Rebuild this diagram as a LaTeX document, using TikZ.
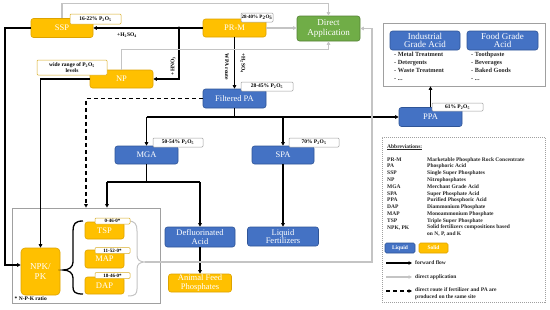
\documentclass[tikz,border=0pt]{standalone}
\usepackage{fontspec}
\setmainfont{Liberation Serif}
\usepackage{tikz}
\usetikzlibrary{arrows.meta}
\definecolor{yel}{HTML}{FFC000}
\definecolor{yelD}{HTML}{DDA300}
\definecolor{blu}{HTML}{4472C4}
\definecolor{bluD}{HTML}{2F5597}
\definecolor{grn}{HTML}{70AD47}
\definecolor{grnD}{HTML}{548235}
\definecolor{lgr}{HTML}{C4C4C4}
\definecolor{fgr}{HTML}{A0A0A0}
\newcommand{\myfs}[2]{\fontsize{#1}{#2}\selectfont}
\newcommand{\pto}{P\textsubscript{2}O\textsubscript{5}}
\begin{document}
\begin{tikzpicture}[x=1pt,y=-1pt,
  base/.style={rounded corners=2.5pt, line width=0.6pt, text=white, align=center, font=\myfs{8.5}{8.5}, inner sep=0pt},
  ybox/.style={base, fill=yel, draw=yelD},
  bbox/.style={base, fill=blu, draw=bluD},
  gbox/.style={base, fill=grn, draw=grnD},
  labg/.style={draw=fgr, fill=white, rounded corners=1pt, font=\myfs{5.5}{6}\bfseries, inner sep=0pt, line width=0.5pt},
  laby/.style={labg, draw=yel!70!gray},
  note/.style={font=\myfs{5.5}{6}\bfseries, inner sep=0.5pt},
  lst/.style={font=\myfs{6.3}{8}\bfseries, align=left, inner sep=0pt, text=black!85},
  leg/.style={font=\myfs{5.5}{6.8}\bfseries, align=left, inner sep=0pt, text=black!85},
  frame/.style={draw=fgr, line width=0.7pt, inner sep=0pt},
  bline/.style={line width=1.1pt},
  fwd/.style={line width=1.1pt, -{Triangle[length=3.5pt,width=3.5pt]}},
  dfwd/.style={line width=1.3pt, dash pattern=on 4pt off 3pt, -{Triangle[length=3.5pt,width=3.5pt]}},
  gfwd/.style={line width=1.1pt, draw=lgr, -{Triangle[length=3.5pt,width=3.5pt]}}
]
\useasboundingbox (0,0) rectangle (550,309);
\fill[white] (0,0) rectangle (550,309);

% frames
\node[frame, minimum width=148pt, minimum height=95pt] (npkframe) at (86,255.5) {};
\node[frame, minimum width=162pt, minimum height=63pt] (apps) at (464,54.5) {};
\node[draw=fgr, line width=0.6pt, dash pattern=on 1pt off 1pt, minimum width=163pt, minimum height=165pt, inner sep=0pt] (legend) at (463.5,219.5) {};

% main nodes
\node[ybox, minimum width=62pt, minimum height=19pt] (ssp) at (62,28) {SSP};
\node[ybox, minimum width=63pt, minimum height=18pt] (prm) at (234.5,28) {PR-M};
\node[gbox, minimum width=63pt, minimum height=25pt, font=\myfs{9}{10}] (da) at (328.5,28.5) {Direct\\Application};
\node[ybox, minimum width=63pt, minimum height=18pt] (np) at (121.5,79) {NP};
\node[bbox, minimum width=63pt, minimum height=19pt] (fpa) at (234.5,98.5) {Filtered PA};
\node[bbox, minimum width=63pt, minimum height=18pt] (mga) at (146.5,155) {MGA};
\node[bbox, minimum width=62pt, minimum height=18pt] (spa) at (283,155) {SPA};
\node[bbox, minimum width=63pt, minimum height=19pt] (ppa) at (430.5,117) {PPA};
\node[bbox, minimum width=70pt, minimum height=20pt] (defl) at (200,237) {Defluorinated\\Acid};
\node[bbox, minimum width=71pt, minimum height=19pt] (lf) at (283,236.5) {Liquid\\Fertilizers};
\node[ybox, minimum width=63pt, minimum height=18pt] (afp) at (200,283) {Animal Feed\\Phosphates};
\node[ybox, minimum width=39pt, minimum height=47pt, rounded corners=4pt, font=\myfs{9}{10}] (npk) at (40.5,271.5) {NPK/\\PK};
\node[ybox, minimum width=39pt, minimum height=17pt] (tsp) at (104.5,230.5) {TSP};
\node[ybox, minimum width=39pt, minimum height=18pt] (map) at (104.5,259) {MAP};
\node[ybox, minimum width=39pt, minimum height=17pt] (dap) at (104.5,285.5) {DAP};
\node[bbox, minimum width=70pt, minimum height=19pt, font=\myfs{9}{8.5}] (iga) at (425,40.5) {Industrial\\Grade Acid};
\node[bbox, minimum width=71pt, minimum height=19pt, font=\myfs{9}{8.5}] (fga) at (502.5,40.5) {Food Grade\\Acid};

% lists
\node[lst, anchor=north west] (l1) at (394,51.5) {- Metal Treatment\\- Detergents\\- Waste Treatment\\- ...};
\node[lst, anchor=north west] (l2) at (471,51.5) {- Toothpaste\\- Beverages\\- Baked Goods\\- ...};

% black connectors
\coordinate (j1) at (179,28);
\draw[fwd] (prm.west) -- (ssp.east);
\fill (j1) circle (1.6pt);
\draw[fwd] (j1) |- (np.east);
\coordinate (c1) at (5,265);
\draw[fwd] (ssp.west) -| (c1) -- (c1 -| npk.west);
\draw[fwd] (np.west) -| (npk.north);
\draw[fwd] (prm.south) -- (fpa.north);
\coordinate (h1) at (146.5,117);
\draw[bline] (fpa.south) -- (fpa.south |- h1);
\draw[fwd] (h1) -- (ppa.west);
\draw[fwd] (h1) -- (mga.north);
\draw[fwd] (spa.north |- h1) -- (spa.north);
\draw[fwd] (ppa.north) -- (ppa.north |- apps.south);
\coordinate (h2) at (146.5,182);
\coordinate (h2l) at (107,182);
\coordinate (h2r) at (200,182);
\draw[bline] (mga.south) -- (h2);
\draw[bline] (h2l) -- (h2r);
\draw[fwd] (h2l) -- (h2l |- npkframe.north);
\draw[fwd] (h2r) -- (defl.north);
\draw[fwd] (defl.south) -- (afp.north);
\draw[fwd] (spa.south) -- (lf.north);
\coordinate (d1) at (86,99);
\draw[dfwd] (fpa.west) -| (d1 |- npkframe.north);

% grey connectors
\draw[gfwd] (prm.east) -- (prm.east -| da.west);
\draw[gfwd] (ssp.north) -- ++(0,-15) -| (da.north);
\draw[gfwd] (np.north) -- ++(0,-20) -| (da.south);
\coordinate (gb) at (145,262);
\coordinate (gc) at (372,262);
\draw[gfwd] (gb) -- (gc) |- (da.east);

% braces
\draw[line width=1.3pt] (83,221) .. controls (75,221) and (73,224) .. (73,231) -- (73,262) .. controls (73,267) and (69,270) .. (63,270) .. controls (69,270) and (73,273) .. (73,278) -- (73,287) .. controls (73,292) and (75,294) .. (83,294);
\draw[line width=1pt, draw=lgr] (128,221) .. controls (135,221) and (137,224) .. (137,231) -- (137,255) .. controls (137,260) and (140,262) .. (145,262) .. controls (140,262) and (137,264) .. (137,269) -- (137,289) .. controls (137,294) and (135,296) .. (128,296);

% labels
\node[laby, minimum width=51pt, minimum height=10pt] (lssp) at (95.5,19) {16-22\% \pto};
\node[laby, minimum width=70pt, minimum height=15pt, align=center, font=\myfs{5.5}{6}\bfseries] (lnp) at (72,67.5) {wide range of \pto\\levels};
\node[labg, minimum width=32pt, minimum height=9pt, font=\myfs{5}{5.5}\bfseries] (lprm) at (257,17.5) {28-40\% \pto};
\node[labg, minimum width=52pt, minimum height=9pt] (lfpa) at (267,86.5) {28-45\% \pto};
\node[labg, minimum width=50pt, minimum height=9pt] (lmga) at (178,142.5) {50-54\% \pto};
\node[labg, minimum width=50pt, minimum height=9pt] (lspa) at (314,142.5) {70\% \pto};
\node[labg, minimum width=51pt, minimum height=8pt] (lppa) at (457.5,107) {61\% \pto};
\node[laby, minimum width=35pt, minimum height=6pt, font=\myfs{5}{5}\bfseries] (ltsp) at (112.5,221) {0-46-0*};
\node[laby, minimum width=35pt, minimum height=6pt, font=\myfs{5}{5}\bfseries] (lmap) at (112.5,250.5) {11-52-0*};
\node[laby, minimum width=35pt, minimum height=6pt, font=\myfs{5}{5}\bfseries] (ldap) at (112.5,275.5) {18-46-0*};

% notes
\node[note] (t1) at (127,35) {+H\textsubscript{2}SO\textsubscript{4}};
\node[note, rotate=90] (t2) at (173,66) {+HNO\textsubscript{3}};
\node[note, rotate=-90] (t3) at (227,67) {WPA route};
\node[note, rotate=-90] (t4) at (243,63) {+H\textsubscript{2}SO\textsubscript{4}};
\node[note, anchor=west] (ratio) at (14,298.5) {* N-P-K ratio};

% legend
\node[leg, anchor=base west] (abh) at (387,148) {\underline{Abbreviations:}};
\foreach \i/\a/\b in {0/PR-M/Marketable Phosphate Rock Concentrate, 1/PA/Phosphoric Acid, 2/SSP/Single Super Phosphates, 3/NP/Nitrophosphates, 4/MGA/Merchant Grade Acid, 5/SPA/Super Phosphate Acid, 6/PPA/Purified Phosphoric Acid, 7/DAP/Diammonium Phosphate, 8/MAP/Monoammonium Phosphate, 9/TSP/Triple Super Phosphate}{
  \node[leg, anchor=base west] (ab\i) at (387,161+6.8*\i) {\a};
  \node[leg, anchor=base west] (de\i) at (427,161+6.8*\i) {\b};
}
\node[leg, anchor=base west] (ab10) at (387,229) {NPK, PK};
\node[leg, anchor=north west] (de10) at (427,224.5) {Solid fertilizers compositions based\\on N, P, and K};
\node[bbox, minimum width=30pt, minimum height=10pt, font=\myfs{5.5}{5.5}\bfseries, rounded corners=1.5pt] (lq) at (400,248) {Liquid};
\node[ybox, minimum width=29pt, minimum height=10pt, font=\myfs{5.5}{5.5}\bfseries, rounded corners=1.5pt] (sd) at (433.5,248) {Solid};
\coordinate (a1s) at (386,263); \coordinate (a1e) at (412,263);
\coordinate (a2s) at (386,277); \coordinate (a2e) at (412,277);
\coordinate (a3s) at (386,291); \coordinate (a3e) at (412,291);
\draw[fwd] (a1s) -- (a1e);
\draw[gfwd] (a2s) -- (a2e);
\draw[dfwd] (a3s) -- (a3e);
\node[leg, anchor=west] (lg1) at (415,263) {forward flow};
\node[leg, anchor=west] (lg2) at (415,277) {direct application};
\node[leg, anchor=north west] (lg3) at (415,287.5) {direct route if fertilizer and PA are\\produced on the same site};
\end{tikzpicture}
\end{document}
